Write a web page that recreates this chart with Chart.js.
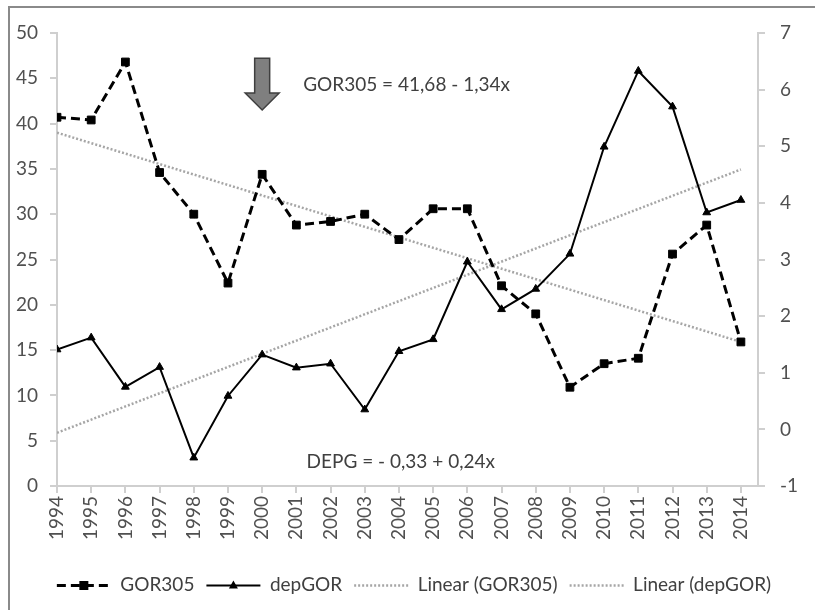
<!DOCTYPE html>
<html>
<head>
<meta charset="utf-8">
<script src="https://cdn.jsdelivr.net/npm/chart.js@4/dist/chart.umd.min.js"></script>
<style>
  body { margin: 0; background: #fff; }
  #wrap { position: relative; width: 815px; height: 610px; overflow: hidden; background: #fff; }
  #frame { position: absolute; left: 8px; top: 6px; width: 900px; height: 700px;
           border-top: 2px solid #8a8a8a; border-left: 2px solid #8a8a8a; pointer-events: none; }
</style>
</head>
<body>
<div id="wrap">
  <canvas id="myChart" width="815" height="610"></canvas>
  <div id="frame"></div>
</div>
<script>
// data
const years = [1994, 1995, 1996, 1997, 1998, 1999, 2000, 2001, 2002, 2003, 2004,
               2005, 2006, 2007, 2008, 2009, 2010, 2011, 2012, 2013, 2014];
const gor305 = [40.7, 40.4, 46.8, 34.6, 30.0, 22.4, 34.4, 28.8, 29.2, 30.0, 27.2,
                30.6, 30.6, 22.1, 19.0, 10.9, 13.5, 14.1, 25.6, 28.8, 15.9];
const depGor = [1.41, 1.62, 0.75, 1.10, -0.50, 0.59, 1.32, 1.09, 1.16, 0.35, 1.38,
                1.59, 2.96, 2.12, 2.48, 3.10, 4.99, 6.33, 5.70, 3.83, 4.05];
const trendYears = [1994, 2014];
const trendGor305 = [39.0, 15.9];
const trendDepGor = [-0.06, 4.59];
const leftTicks = [0, 5, 10, 15, 20, 25, 30, 35, 40, 45, 50];
const rightTicks = [-1, 0, 1, 2, 3, 4, 5, 6, 7];

const equations = [
  { text: "GOR305 = 41,68 - 1,34x", x: 2001.2, y: 44.3 },
  { text: "DEPG = - 0,33 + 0,24x", x: 2001.3, y: 2.65 }
];
const arrowNote = { x: 2000, yTop: 47.2, yTip: 41.5 };

const pts = (xs, ys) => xs.map((x, i) => ({ x: x, y: ys[i] }));

const tickColor = "#505050";
const axisColor = "#cfcfcf";
const trendColor = "#a6a6a6";

// draws the arrow and the two equations
const notes = {
  id: "notes",
  afterDatasetsDraw(chart) {
    const ctx = chart.ctx;
    const x = chart.scales.x, y = chart.scales.y;
    ctx.save();
    const ax = x.getPixelForValue(arrowNote.x);
    const top = y.getPixelForValue(arrowNote.yTop);
    const tip = y.getPixelForValue(arrowNote.yTip);
    const neck = tip - 17;
    ctx.beginPath();
    ctx.moveTo(ax - 7.5, top);
    ctx.lineTo(ax + 7.5, top);
    ctx.lineTo(ax + 7.5, neck);
    ctx.lineTo(ax + 17, neck);
    ctx.lineTo(ax, tip);
    ctx.lineTo(ax - 17, neck);
    ctx.lineTo(ax - 7.5, neck);
    ctx.closePath();
    ctx.fillStyle = "#7f7f7f";
    ctx.fill();
    ctx.strokeStyle = "#3f3f3f";
    ctx.lineWidth = 1.5;
    ctx.stroke();

    ctx.font = "19px Lato";
    ctx.fillStyle = "#404040";
    ctx.textAlign = "left";
    ctx.textBaseline = "middle";
    equations.forEach(e => {
      ctx.fillText(e.text, x.getPixelForValue(e.x), y.getPixelForValue(e.y));
    });
    ctx.restore();
  }
};

// line samples and markers for the legend
const legendMarks = {
  id: "legendMarks",
  afterDraw(chart) {
    const lg = chart.legend;
    if (!lg || !lg.legendHitBoxes) return;
    const ctx = chart.ctx;
    const bw = lg.options.labels.boxWidth;
    ctx.save();
    lg.legendItems.forEach((item, i) => {
      const ds = chart.data.datasets[item.datasetIndex];
      const hb = lg.legendHitBoxes[i];
      const cx = hb.left + bw / 2, cy = Math.round(hb.top + hb.height / 2) + 0.5;
      ctx.beginPath();
      ctx.setLineDash(ds.borderDash || []);
      ctx.strokeStyle = ds.borderColor;
      ctx.lineWidth = ds.borderWidth;
      ctx.moveTo(hb.left, cy);
      ctx.lineTo(hb.left + bw, cy);
      ctx.stroke();
      ctx.setLineDash([]);
      ctx.fillStyle = "#000";
      ctx.beginPath();
      if (ds.pointStyle === "rect") {
        ctx.rect(cx - 4.5, cy - 4.5, 9, 9);
      } else if (ds.pointStyle === "triangle") {
        ctx.moveTo(cx, cy - 5);
        ctx.lineTo(cx + 4.5, cy + 3);
        ctx.lineTo(cx - 4.5, cy + 3);
        ctx.closePath();
      } else {
        return;
      }
      ctx.fill();
    });
    ctx.restore();
  }
};

Chart.defaults.font.family = "Lato";

new Chart(document.getElementById("myChart"), {
  type: "line",
  data: {
    datasets: [
      {
        label: "GOR305",
        data: pts(years, gor305),
        yAxisID: "y",
        borderColor: "#000",
        backgroundColor: "#000",
        borderWidth: 3,
        borderDash: [9, 5],
        pointStyle: "rect",
        pointRadius: 5.5,
        pointBorderWidth: 1,
        tension: 0
      },
      {
        label: "depGOR",
        data: pts(years, depGor),
        yAxisID: "y1",
        borderColor: "#000",
        backgroundColor: "#000",
        borderWidth: 2,
        pointStyle: "triangle",
        pointRadius: 4.5,
        pointBorderWidth: 1,
        tension: 0
      },
      {
        label: "Linear (GOR305)",
        data: pts(trendYears, trendGor305),
        yAxisID: "y",
        borderColor: trendColor,
        borderWidth: 2.5,
        borderDash: [2, 2],
        pointRadius: 0
      },
      {
        label: "Linear (depGOR)",
        data: pts(trendYears, trendDepGor),
        yAxisID: "y1",
        borderColor: trendColor,
        borderWidth: 2.5,
        borderDash: [2, 2],
        pointRadius: 0
      }
    ]
  },
  options: {
    responsive: false,
    animation: false,
    layout: { padding: { top: 33, left: 13, right: 0, bottom: 6 } },
    plugins: {
      tooltip: { enabled: false },
      legend: {
        position: "bottom",
        labels: {
          boxWidth: 54,
          boxHeight: 0,
          padding: 12,
          color: "#404040",
          font: { size: 19 },
          generateLabels(chart) {
            return chart.data.datasets.map((ds, i) => ({
              text: ds.label,
              datasetIndex: i,
              fillStyle: "rgba(0,0,0,0)",
              strokeStyle: "rgba(0,0,0,0)",
              lineWidth: 0,
              fontColor: "#404040"
            }));
          }
        }
      }
    },
    scales: {
      x: {
        type: "linear",
        min: 1994,
        max: 2014.5,
        offset: false,
        afterBuildTicks(scale) { scale.ticks = years.map(v => ({ value: v })); },
        afterFit(scale) { scale.height = 77; },
        ticks: {
          autoSkip: false,
          minRotation: 90,
          maxRotation: 90,
          padding: 3,
          color: tickColor,
          font: { size: 19 },
          callback: v => String(v)
        },
        grid: { drawOnChartArea: false, drawTicks: true, tickLength: 7, color: axisColor, lineWidth: 2 },
        border: { display: true, color: axisColor, width: 2 }
      },
      y: {
        position: "left",
        min: 0,
        max: 50,
        afterBuildTicks(scale) { scale.ticks = leftTicks.map(v => ({ value: v })); },
        afterFit(scale) { scale.width = 44; },
        ticks: { padding: 12, color: tickColor, font: { size: 19 } },
        grid: { drawOnChartArea: false, drawTicks: true, tickLength: 7, color: axisColor, lineWidth: 2 },
        border: { display: true, color: axisColor, width: 2 }
      },
      y1: {
        position: "right",
        min: -1,
        max: 7,
        afterBuildTicks(scale) { scale.ticks = rightTicks.map(v => ({ value: v })); },
        afterFit(scale) { scale.width = 57; },
        ticks: { padding: 15, color: tickColor, font: { size: 19 } },
        grid: { drawOnChartArea: false, drawTicks: true, tickLength: 7, color: axisColor, lineWidth: 2 },
        border: { display: true, color: axisColor, width: 2 }
      }
    }
  },
  plugins: [notes, legendMarks]
});
</script>
</body>
</html>
